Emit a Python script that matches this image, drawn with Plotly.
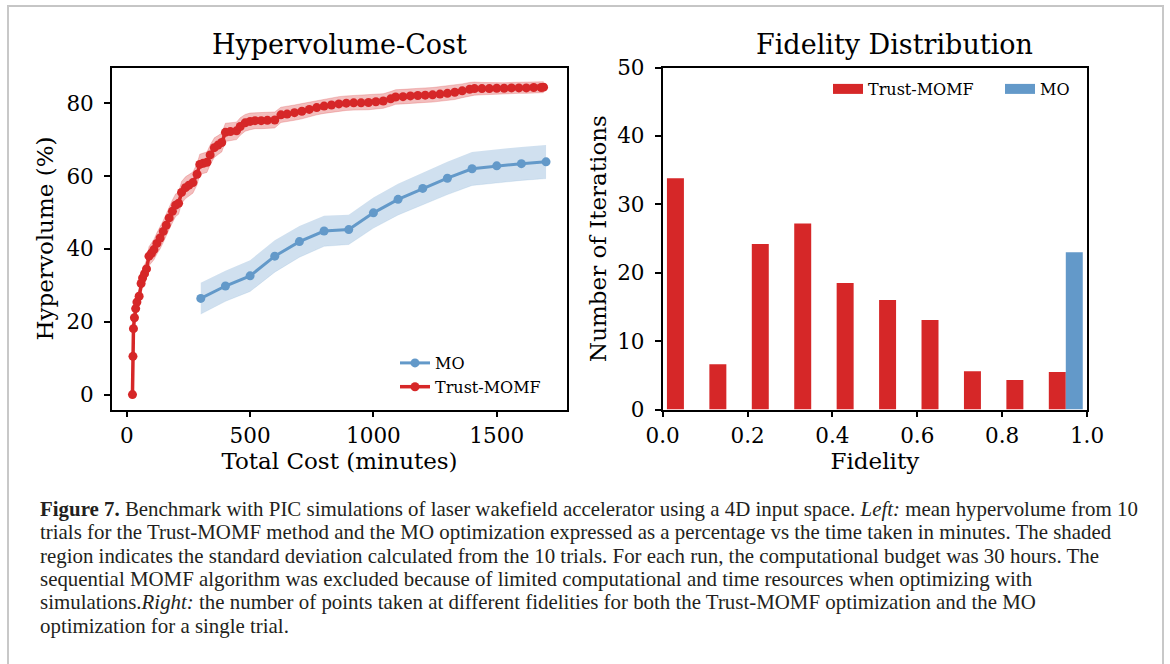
import numpy as np
import plotly.graph_objects as go

# ---------------- data ----------------
mo_cost = [300, 400, 500, 600, 700, 800, 900, 1000, 1100, 1200, 1300, 1400, 1500, 1600, 1700]
mo_hv = [26.4, 29.8, 32.6, 38.0, 42.0, 44.9, 45.3, 49.9, 53.6, 56.6, 59.4, 62.0, 62.8, 63.4, 63.9]
mo_std = [4.3, 4.2, 4.3, 4.4, 4.3, 4.2, 4.1, 4.2, 4.3, 4.4, 4.5, 4.6, 4.6, 4.6, 4.6]

tm_cost = [23, 25, 27, 31, 36, 41, 50, 58, 64, 72, 80, 90, 100, 110, 122, 135, 148, 160, 172, 185,
           198, 210, 222, 238, 252, 268, 285, 296, 310, 325, 338, 355, 370, 385, 400, 420, 445, 460, 480, 500,
           520, 545, 570, 600, 625, 650, 680, 710, 740, 770, 800, 830, 860, 890, 920, 950, 980, 1010, 1040, 1070,
           1090, 1120, 1150, 1180, 1210, 1240, 1270, 1300, 1330, 1360, 1390, 1410, 1440, 1470, 1500, 1530, 1560, 1590, 1620, 1650,
           1680, 1690]
tm_hv = [0.0, 10.5, 18.1, 21.1, 23.6, 25.4, 27.0, 30.5, 32.0, 33.2, 34.5, 38.0, 38.8, 39.8, 41.5, 43.0, 44.8, 46.5, 48.5, 50.3,
         52.0, 52.5, 55.5, 56.8, 57.5, 58.2, 60.5, 63.2, 63.5, 63.8, 65.8, 67.8, 68.5, 69.2, 72.0, 72.2, 72.4, 73.6, 74.6, 75.0,
         75.2, 75.2, 75.3, 75.4, 76.8, 77.0, 77.4, 77.8, 78.3, 78.8, 79.2, 79.5, 79.8, 80.0, 80.1, 80.1, 80.2, 80.4, 80.6, 81.2,
         81.7, 81.8, 82.0, 82.1, 82.2, 82.3, 82.5, 82.7, 83.0, 83.4, 83.8, 84.0, 84.0, 84.0, 84.1, 84.1, 84.2, 84.2, 84.2, 84.3,
         84.3, 84.4]
tm_std = [0.3, 0.8, 1.2, 1.5, 1.7, 1.9, 2.0, 2.2, 2.3, 2.4, 2.5, 2.6, 2.7, 2.8, 2.9, 3.0, 3.0, 3.1, 3.1, 3.1,
          3.1, 3.0, 3.0, 3.0, 2.9, 2.9, 2.9, 2.8, 2.8, 2.8, 2.7, 2.7, 2.6, 2.6, 2.5, 2.5, 2.4, 2.4, 2.3, 2.3,
          2.2, 2.2, 2.2, 2.2, 2.1, 2.1, 2.1, 2.1, 2.0, 2.0, 2.0, 2.0, 2.0, 2.0, 2.0, 2.0, 2.0, 2.0, 2.0, 2.0,
          2.0, 2.0, 2.0, 2.0, 2.0, 2.0, 2.0, 2.0, 2.0, 1.9, 1.9, 1.8, 1.7, 1.6, 1.5, 1.5, 1.5, 1.5, 1.5, 1.5,
          1.5, 1.5]

fid_bins = [0.05, 0.15, 0.25, 0.35, 0.45, 0.55, 0.65, 0.75, 0.85, 0.95]
fid_trust = [33.8, 6.6, 24.2, 27.2, 18.5, 16.0, 13.1, 5.6, 4.3, 5.5]
fid_mo = [0, 0, 0, 0, 0, 0, 0, 0, 0, 23.0]

caption_lines = [
    "<b>Figure 7.</b> Benchmark with PIC simulations of laser wakefield accelerator using a 4D input space. <i>Left:</i> mean hypervolume from 10",
    "trials for the Trust-MOMF method and the MO optimization expressed as a percentage vs the time taken in minutes. The shaded",
    "region indicates the standard deviation calculated from the 10 trials. For each run, the computational budget was 30 hours. The",
    "sequential MOMF algorithm was excluded because of limited computational and time resources when optimizing with",
    "simulations.<i>Right:</i> the number of points taken at different fidelities for both the Trust-MOMF optimization and the MO",
    "optimization for a single trial.",
]

# ---------------- style ----------------
W, H = 1170, 664
RED = "#d62728"
BLUE = "#6399c9"
FONT = "DejaVu Serif"


def px_x(p):
    return p / W


def px_y(p):
    return 1 - p / H


fig = go.Figure()

mo_hv_a = np.array(mo_hv)
mo_std_a = np.array(mo_std)
tm_hv_a = np.array(tm_hv)
tm_std_a = np.array(tm_std)

# MO band + line
fig.add_trace(go.Scatter(x=mo_cost, y=mo_hv_a + mo_std_a, mode="lines", line=dict(width=0, color="rgba(0,0,0,0)"),
                         showlegend=False, hoverinfo="skip", xaxis="x", yaxis="y"))
fig.add_trace(go.Scatter(x=mo_cost, y=mo_hv_a - mo_std_a, mode="lines", line=dict(width=1, color="rgba(99,153,201,0.15)"),
                         fill="tonexty", fillcolor="rgba(99,153,201,0.3)", showlegend=False, hoverinfo="skip",
                         xaxis="x", yaxis="y"))
fig.add_trace(go.Scatter(x=mo_cost, y=mo_hv, mode="lines+markers", name="MO",
                         line=dict(color=BLUE, width=3), marker=dict(color=BLUE, size=9),
                         xaxis="x", yaxis="y", legend="legend"))

# Trust-MOMF band + line
fig.add_trace(go.Scatter(x=tm_cost, y=tm_hv_a + tm_std_a, mode="lines", line=dict(width=1, color="rgba(214,39,40,0.22)"),
                         showlegend=False, hoverinfo="skip", xaxis="x", yaxis="y"))
fig.add_trace(go.Scatter(x=tm_cost, y=tm_hv_a - tm_std_a, mode="lines", line=dict(width=1, color="rgba(214,39,40,0.22)"),
                         fill="tonexty", fillcolor="rgba(214,39,40,0.3)", showlegend=False, hoverinfo="skip",
                         xaxis="x", yaxis="y"))
fig.add_trace(go.Scatter(x=tm_cost, y=tm_hv, mode="lines+markers", name="Trust-MOMF",
                         line=dict(color=RED, width=3.5), marker=dict(color=RED, size=9),
                         xaxis="x", yaxis="y", legend="legend"))

# Fidelity histogram
fig.add_trace(go.Bar(x=fid_bins, y=fid_trust, marker=dict(color=RED, line=dict(width=0)),
                     showlegend=False, xaxis="x2", yaxis="y2", name="Trust-MOMF"))
fig.add_trace(go.Bar(x=fid_bins, y=fid_mo, marker=dict(color=BLUE, line=dict(width=0)),
                     showlegend=False, xaxis="x2", yaxis="y2", name="MO"))
# legend swatches for histogram
fig.add_trace(go.Scatter(x=[None], y=[None], mode="lines", name="Trust-MOMF", line=dict(color=RED, width=10),
                         xaxis="x2", yaxis="y2", legend="legend2"))
fig.add_trace(go.Scatter(x=[None], y=[None], mode="lines", name="MO", line=dict(color=BLUE, width=10),
                         xaxis="x2", yaxis="y2", legend="legend2"))

TICK_SIZE = 21.5
LABEL_SIZE = 23
axis_common = dict(showline=True, linecolor="black", linewidth=1.8, mirror=True, ticks="outside",
                   ticklen=6, tickwidth=1.6, tickcolor="black", showgrid=False, zeroline=False,
                   automargin=False,
                   tickfont=dict(family=FONT, size=TICK_SIZE, color="black"))

ydom = [px_y(409.5), px_y(67.5)]

fig.update_layout(
    width=W, height=H, autosize=False,
    margin=dict(l=0, r=0, t=0, b=0, autoexpand=False),
    paper_bgcolor="white", plot_bgcolor="white",
    barmode="group", bargap=0.2, bargroupgap=0,
    font=dict(family=FONT, color="black"),
    xaxis=dict(domain=[px_x(112), px_x(567)], range=[-60, 1785], tickvals=[0, 500, 1000, 1500],
               title=dict(text="Total Cost (minutes)", font=dict(family=FONT, size=LABEL_SIZE), standoff=5),
               anchor="y", **axis_common),
    yaxis=dict(domain=ydom, range=[-4.1, 89.8], tickvals=[0, 20, 40, 60, 80],
               title=dict(text="Hypervolume (%)", font=dict(family=FONT, size=LABEL_SIZE), standoff=6),
               anchor="x", ticklabelstandoff=6, **axis_common),
    xaxis2=dict(domain=[px_x(662.7), px_x(1087)], range=[0, 1], tickvals=[0, 0.2, 0.4, 0.6, 0.8, 1.0],
                ticktext=["0.0", "0.2", "0.4", "0.6", "0.8", "1.0"],
                title=dict(text="Fidelity", font=dict(family=FONT, size=LABEL_SIZE), standoff=5),
                anchor="y2", **axis_common),
    yaxis2=dict(domain=ydom, range=[0, 50], tickvals=[0, 10, 20, 30, 40, 50],
                title=dict(text="Number of Iterations", font=dict(family=FONT, size=LABEL_SIZE), standoff=4),
                anchor="x2", ticklabelstandoff=6, **axis_common),
    legend=dict(x=px_x(395), y=px_y(346), xanchor="left", yanchor="top", orientation="v",
                traceorder="normal",
                bgcolor="rgba(0,0,0,0)", font=dict(family=FONT, size=16, color="black"), borderwidth=0),
    legend2=dict(x=px_x(828), y=px_y(89), xanchor="left", yanchor="middle", orientation="h",
                 traceorder="normal",
                 bgcolor="rgba(0,0,0,0)", font=dict(family=FONT, size=16, color="black"), borderwidth=0,
                 entrywidthmode="pixels", entrywidth=127),
)

annotations = [
    dict(text="Hypervolume-Cost", x=px_x(339), y=px_y(45), xref="paper", yref="paper", showarrow=False,
         xanchor="center", yanchor="middle", font=dict(family=FONT, size=27, color="black")),
    dict(text="Fidelity Distribution", x=px_x(895), y=px_y(45), xref="paper", yref="paper", showarrow=False,
         xanchor="center", yanchor="middle", font=dict(family=FONT, size=27, color="black")),
]
cap_y = [509, 532, 556, 579, 602, 626]
for line, yy in zip(caption_lines, cap_y):
    annotations.append(dict(text=line, x=px_x(38), y=px_y(yy), xref="paper", yref="paper", showarrow=False,
                            xanchor="left", yanchor="middle", align="left",
                            font=dict(family="Liberation Serif", size=20.9, color="#231f20")))
fig.update_layout(annotations=annotations)

# page frame
fig.update_layout(shapes=[
    dict(type="line", xref="paper", yref="paper", x0=px_x(7), x1=px_x(1164), y0=px_y(6), y1=px_y(6),
         line=dict(color="#8c8c8c", width=1)),
    dict(type="line", xref="paper", yref="paper", x0=px_x(8), x1=px_x(8), y0=px_y(6), y1=0,
         line=dict(color="#c8c8c8", width=2)),
    dict(type="line", xref="paper", yref="paper", x0=px_x(1163), x1=px_x(1163), y0=px_y(6), y1=0,
         line=dict(color="#c8c8c8", width=2)),
])

fig.write_html("out.html")
